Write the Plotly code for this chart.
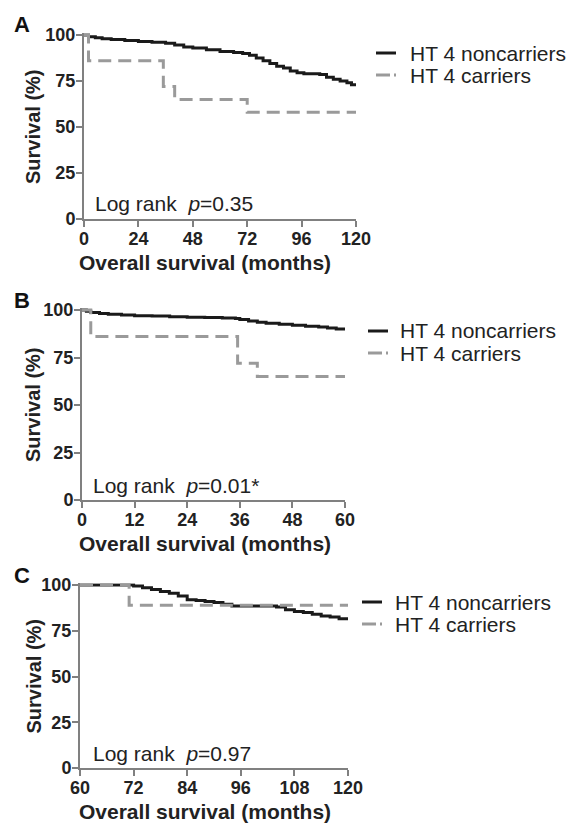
import plotly.graph_objects as go

W, H = 587, 828
OFF = 8  # page body margin offset in the browser
FONT = "Liberation Sans, Arial, Helvetica, sans-serif"

# ---------------- data ----------------
# Panel A (0-120 months)
a_non_t = [0, 2, 5, 8, 12, 18, 24, 30, 36, 40, 44, 48, 54, 60, 66, 70, 73, 76, 79, 82, 85, 88, 91, 94, 97, 100, 104, 107, 110, 113, 116, 118, 120]
a_non_s = [100, 99, 98.5, 98, 97.5, 97, 96.5, 96, 95.5, 94.5, 93.5, 93, 92, 91, 90.5, 90, 89, 87.5, 86, 84.5, 83, 82, 80.5, 79.5, 79, 79, 78.5, 77, 76, 75, 74, 73, 72.5]
a_car_t = [0, 2, 35, 40, 72, 120]
a_car_s = [100, 86, 72, 65, 58, 58]

# Panel B (0-60 months)
b_non_t = [0, 1, 2, 4, 6, 9, 12, 16, 20, 24, 28, 32, 35, 36, 38, 40, 42, 45, 48, 51, 54, 56, 58, 60]
b_non_s = [100, 99.3, 98.7, 98.2, 97.8, 97.4, 97, 96.8, 96.5, 96.2, 96, 95.8, 95.5, 95, 94.2, 93.5, 93, 92.5, 92, 91.5, 91, 90.5, 90, 90]
b_car_t = [0, 2, 35.5, 40, 60]
b_car_s = [100, 86, 72, 65, 65]

# Panel C (60-120 months)
c_non_t = [60, 70, 72, 74, 76, 78, 80, 82, 84, 86, 88, 90, 92, 94, 100, 104, 106, 108, 110, 112, 114, 116, 118, 120]
c_non_s = [100, 100, 99.5, 98.5, 97.5, 96.5, 95.5, 94, 92, 91.5, 91, 90.5, 89.5, 88.5, 88.5, 88, 86.5, 85.5, 85, 84, 83, 82.5, 81.5, 81]
c_car_t = [60, 71, 120]
c_car_s = [100, 89, 89]

a_ticks = [0, 24, 48, 72, 96, 120]
b_ticks = [0, 12, 24, 36, 48, 60]
c_ticks = [60, 72, 84, 96, 108, 120]
y_ticks = [0, 25, 50, 75, 100]

labels = ["A", "B", "C"]
pvals = ["0.35", "0.01*", "0.97"]
series_names = ["HT 4 noncarriers", "HT 4 carriers"]

# ---------------- layout geometry (pixels) ----------------
panels = [
    dict(x0=84, x1=356, ytop=35, ybot=219, xr=[0, 120], ticks=a_ticks,
         non=(a_non_t, a_non_s), car=(a_car_t, a_car_s)),
    dict(x0=82, x1=345, ytop=310, ybot=500, xr=[0, 60], ticks=b_ticks,
         non=(b_non_t, b_non_s), car=(b_car_t, b_car_s)),
    dict(x0=80, x1=348, ytop=585, ybot=768, xr=[60, 120], ticks=c_ticks,
         non=(c_non_t, c_non_s), car=(c_car_t, c_car_s)),
]


def px(x):
    return (x - OFF) / W


def py(y):
    return 1 - (y - OFF) / H


BLACK = "#1a1a1a"
GREY = "#9a9a9a"
AXC = "#808080"

fig = go.Figure()
layout = dict(width=W, height=H, margin=dict(l=0, r=0, t=0, b=0, autoexpand=False),
              paper_bgcolor="white", plot_bgcolor="white", showlegend=False,
              font=dict(family=FONT, color="#222"))
annotations = []
shapes = []

YMAX = 101
for i, p in enumerate(panels):
    sfx = "" if i == 0 else str(i + 1)
    xa, ya = "x" + sfx, "y" + sfx
    fig.add_trace(go.Scatter(x=p["non"][0], y=p["non"][1], mode="lines", line_shape="hv",
                             line=dict(color=BLACK, width=3), name=series_names[0],
                             xaxis=xa, yaxis=ya))
    fig.add_trace(go.Scatter(x=p["car"][0], y=p["car"][1], mode="lines", line_shape="hv",
                             line=dict(color=GREY, width=3, dash="13px,7px"), name=series_names[1],
                             xaxis=xa, yaxis=ya))
    ppu = (p["ybot"] - p["ytop"]) / 100.0
    top_px = p["ybot"] - YMAX * ppu
    axstyle = dict(showline=True, linecolor=AXC, linewidth=2, ticks="outside", ticklen=6,
                   tickwidth=2, tickcolor=AXC, showgrid=False, zeroline=False, automargin=False,
                   tickfont=dict(family=FONT, size=18, color="#222", weight="bold"), fixedrange=True)
    layout["xaxis" + sfx] = dict(domain=[px(p["x0"]), px(p["x1"])], range=p["xr"], tickvals=p["ticks"],
                                 anchor=ya, ticklabelstandoff=-4, **axstyle)
    layout["yaxis" + sfx] = dict(domain=[py(p["ybot"]), py(top_px)], range=[0, YMAX],
                                 tickvals=y_ticks, anchor=xa, ticklabelstandoff=-3, **axstyle)

    ybot, ytop = p["ybot"], p["ytop"]
    # panel letter
    annotations.append(dict(text="<b>%s</b>" % labels[i], x=px(12), y=py(ytop - 10),
                            xref="paper", yref="paper", xanchor="left", yanchor="middle",
                            showarrow=False, font=dict(size=22, color="#111")))
    # y title
    annotations.append(dict(text="<b>Survival (%)</b>", x=px(33), y=py((ytop + ybot) / 2),
                            xref="paper", yref="paper", xanchor="center", yanchor="middle",
                            textangle=-90, showarrow=False, font=dict(size=20, color="#222")))
    # x title
    annotations.append(dict(text="<b>Overall survival (months)</b>", x=px(205), y=py(ybot + 43),
                            xref="paper", yref="paper", xanchor="center", yanchor="middle",
                            showarrow=False, font=dict(size=21, color="#222")))
    # log rank
    annotations.append(dict(text="Log rank  <i>p</i>=%s" % pvals[i], x=px(91 if i else 93),
                            y=py(ybot - 15), xref="paper", yref="paper",
                            xanchor="left", yanchor="middle", showarrow=False,
                            font=dict(size=21, color="#222")))

# legends (glyph + label)
legend_pos = [(376, 408, 53, 75), (368, 398, 331, 353), (362, 393, 602, 624)]
for (gx, tx, y1, y2) in legend_pos:
    shapes.append(dict(type="line", xref="paper", yref="paper", x0=px(gx), x1=px(gx + 20),
                       y0=py(y1), y1=py(y1), line=dict(color=BLACK, width=3)))
    shapes.append(dict(type="line", xref="paper", yref="paper", x0=px(gx), x1=px(gx + 14),
                       y0=py(y2), y1=py(y2), line=dict(color=GREY, width=3)))
    shapes.append(dict(type="line", xref="paper", yref="paper", x0=px(gx + 18), x1=px(gx + 20),
                       y0=py(y2), y1=py(y2), line=dict(color=GREY, width=3)))
    annotations.append(dict(text=series_names[0], x=px(tx), y=py(y1), xref="paper", yref="paper",
                            xanchor="left", yanchor="middle", showarrow=False,
                            font=dict(size=21, color="#222")))
    annotations.append(dict(text=series_names[1], x=px(tx), y=py(y2), xref="paper", yref="paper",
                            xanchor="left", yanchor="middle", showarrow=False,
                            font=dict(size=21, color="#222")))

layout["annotations"] = annotations
layout["shapes"] = shapes
fig.update_layout(**layout)
fig.write_html("out.html")
